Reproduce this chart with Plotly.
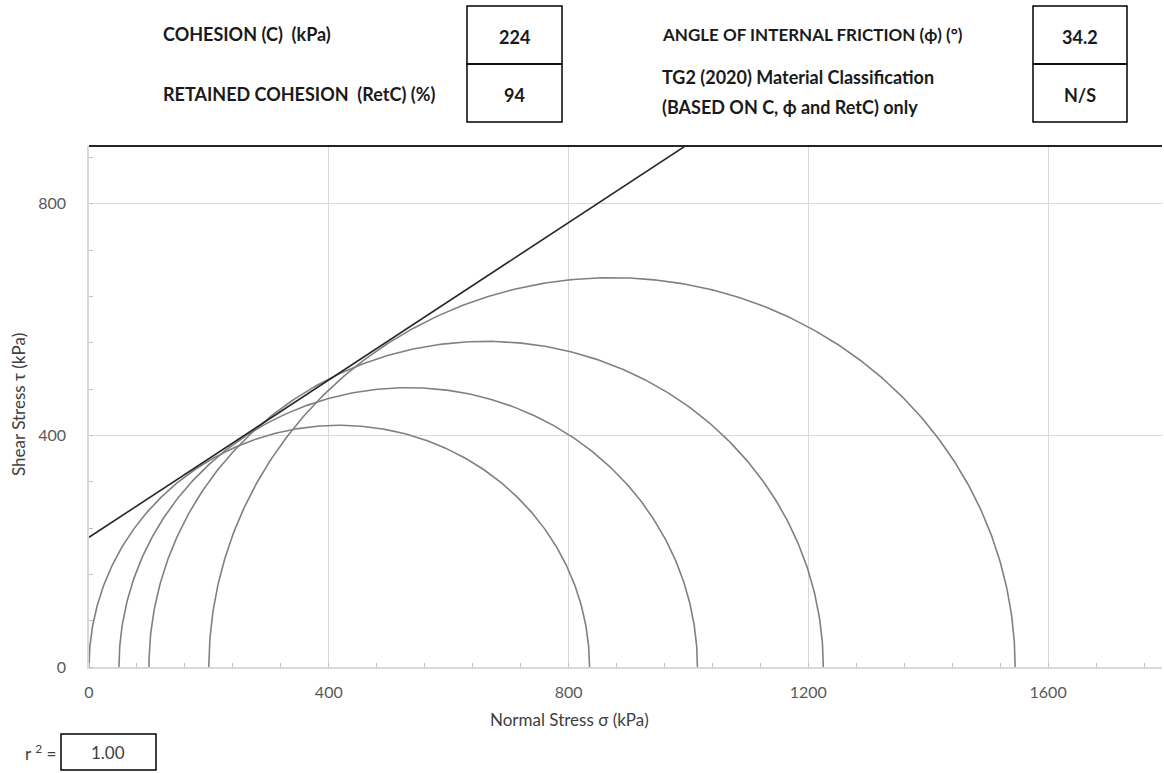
import plotly.graph_objects as go
import numpy as np

# ---- data ----
sigma3 = [0, 50, 100, 200]          # minor principal stress (kPa)
sigma1 = [835, 1015, 1225, 1545]    # major principal stress (kPa)
cohesion = 224                       # kPa
phi_deg = 34.2                       # degrees
retained_cohesion = 94               # %
classification = "N/S"
r_squared = "1.00"
x_ticks = [0, 400, 800, 1200, 1600]
y_ticks = [0, 400, 800]

W, H = 1164, 773
L, R, T, B = 89, 2, 146, 106
PW, PH = W - L - R, H - T - B

def px(x):
    return (x - L) / PW

def py(y):
    return (H - B - y) / PH

fig = go.Figure()

# Mohr circles (upper halves)
theta = np.linspace(0, np.pi, 361)
for s3, s1 in zip(sigma3, sigma1):
    c = (s1 + s3) / 2
    r = (s1 - s3) / 2
    fig.add_trace(go.Scatter(x=c + r * np.cos(theta), y=r * np.sin(theta),
                             mode="lines", line=dict(color="#808080", width=1.6),
                             hoverinfo="skip", showlegend=False))

# failure envelope
xe = np.array([0, 1800])
ye = cohesion + np.tan(np.radians(phi_deg)) * xe
fig.add_trace(go.Scatter(x=xe, y=ye, mode="lines",
                         line=dict(color="#262626", width=1.6),
                         hoverinfo="skip", showlegend=False))

axis_font = dict(family="Lato, Arial, sans-serif", size=16, color="#595959")
fig.update_layout(
    width=W, height=H,
    margin=dict(l=L, r=R, t=T, b=B),
    paper_bgcolor="white", plot_bgcolor="white",
    font=dict(family="Lato, Arial, sans-serif", color="#000000"),
    xaxis=dict(range=[0, 1790], tickvals=x_ticks, ticktext=[str(v) for v in x_ticks],
               showgrid=True, gridcolor="#d9d9d9", gridwidth=1.3,
               showline=True, linecolor="#d9d9d9", linewidth=1.5,
               zeroline=False, ticks="", tickfont=axis_font,
               ticklabelstandoff=10,
               minor=dict(dtick=80, tick0=0, ticks="inside", ticklen=4,
                          tickcolor="#bfbfbf", tickwidth=1, showgrid=False)),
    yaxis=dict(range=[0, 900], tickvals=y_ticks, ticktext=[str(v) for v in y_ticks],
               showgrid=True, gridcolor="#d9d9d9", gridwidth=1.3,
               showline=True, linecolor="#d9d9d9", linewidth=1.5,
               zeroline=False, ticks="", tickfont=axis_font,
               ticklabelstandoff=18,
               minor=dict(dtick=80, tick0=0, ticks="inside", ticklen=4,
                          tickcolor="#bfbfbf", tickwidth=1, showgrid=False)),
)

# top border of plot area
fig.add_shape(type="line", xref="paper", yref="paper", x0=0, x1=1, y0=1, y1=1,
              line=dict(color="#262626", width=2))

ann = []
def add(x, y, text, font, xanchor="left", angle=0):
    ann.append(dict(x=px(x), y=py(y), xref="paper", yref="paper", text=text,
                    showarrow=False, font=font, xanchor=xanchor, yanchor="middle",
                    textangle=angle))

title_font = dict(family="Lato, Arial, sans-serif", size=17, color="#404040")
add(569, 719, "Normal Stress σ (kPa)", title_font, "center")
add(18, 405, "Shear Stress τ (kPa)", title_font, "center", -90)

hdr = dict(family="Lato, Arial, sans-serif", size=18, color="#1a1a1a")
hdr2 = dict(family="Lato, Arial, sans-serif", size=17, color="#1a1a1a")
hdr3 = dict(family="Lato, Arial, sans-serif", size=18, color="#1a1a1a")
add(161, 34, "<b>COHESION (C)  (kPa)</b>", hdr)
add(161, 94, "<b>RETAINED COHESION  (RetC) (%)</b>", hdr)
add(660, 34, "<b>ANGLE OF INTERNAL FRICTION (ϕ) (°)</b>", hdr2)
add(660, 77, "<b>TG2 (2020) Material Classification</b>", hdr3)
add(660, 107, "<b>(BASED ON C, ϕ and RetC) only</b>", hdr3)

add(514, 37, f"<b>{cohesion}</b>", hdr, "center")
add(514, 95, f"<b>{retained_cohesion}</b>", hdr, "center")
add(1080, 37, f"<b>{phi_deg}</b>", hdr, "center")
add(1080, 95, f"<b>{classification}</b>", hdr, "center")

small = dict(family="Lato, Arial, sans-serif", size=17, color="#404040")
add(58, 752, "r <sup>2</sup> =", small, "right")
add(108, 752, r_squared, small, "center")
fig.update_layout(annotations=ann)

# boxes
def box(x0, y0, x1, y1, w=1.5):
    fig.add_shape(type="rect", xref="paper", yref="paper",
                  x0=px(x0), x1=px(x1), y0=py(y1), y1=py(y0),
                  line=dict(color="#000000", width=w), fillcolor="rgba(0,0,0,0)")

box(467, 6, 562, 64)
box(467, 64, 562, 122)
box(1033, 6, 1127, 64)
box(1033, 64, 1127, 122)
box(61, 734, 156, 770)

fig.write_html("out.html")
